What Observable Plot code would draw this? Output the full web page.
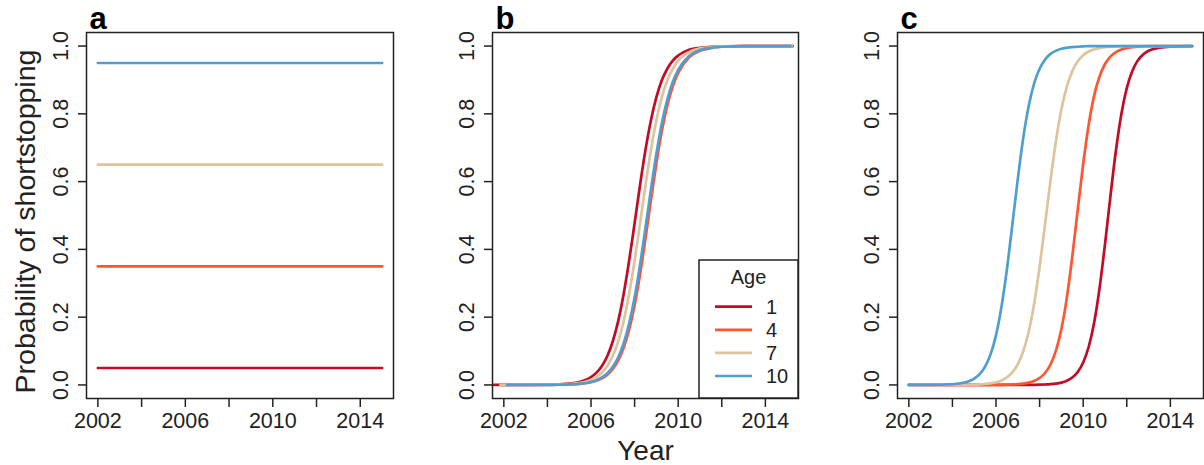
<!DOCTYPE html>
<html><head><meta charset="utf-8">
<script src="https://cdn.jsdelivr.net/npm/d3@7"></script>
<script src="https://cdn.jsdelivr.net/npm/@observablehq/plot@0.6"></script>
<style>
body{margin:0;background:#fff;}
#wrap{position:relative;width:1204px;height:465px;overflow:hidden;font-family:"Liberation Sans",Arial,sans-serif;}
.panel{position:absolute;top:0;}
.overlay{position:absolute;left:0;top:0;pointer-events:none;}
</style></head><body><div id="wrap"></div>
<script>
// ---- categories, colours, labels ----
const ages = ["1", "4", "7", "10"];
const ageColors = ["#C40A24", "#FF5533", "#DDC49E", "#4E9FCF"];
const xTicks = [2002, 2004, 2006, 2008, 2010, 2012, 2014];
const xTickLabels = [2002, 2006, 2010, 2014];
const yTicks = [0, 0.2, 0.4, 0.6, 0.8, 1.0];
const yTitle = "Probability of shortstopping";
const xTitle = "Year";
const panelLetters = ["a", "b", "c"];
const legendTitle = "Age";

// ---- panel a ----
const aYears = [2002, 2015];
const aAge1 = [0.05, 0.05];
const aAge4 = [0.35, 0.35];
const aAge7 = [0.65, 0.65];
const aAge10 = [0.95, 0.95];

// ---- panel b ----
const bYears = [2001.55, 2001.85, 2002.15, 2003, 2004, 2004.5, 2005, 2005.5,
  2005.75, 2006, 2006.25, 2006.5, 2006.75, 2007, 2007.25, 2007.5, 2007.75, 2008,
  2008.25, 2008.5, 2008.75, 2009, 2009.25, 2009.5, 2009.75, 2010,
  2010.5, 2011, 2011.5, 2012, 2013, 2014, 2015.15, 2015.2, 2015.25];
const bAge1 = [0, 0, 0, 0.0001, 0.0006, 0.0016, 0.0039, 0.0096,
  0.0149, 0.0234, 0.0363, 0.0562, 0.0856, 0.129, 0.189, 0.269, 0.367, 0.477,
  0.59, 0.694, 0.781, 0.849, 0.899, 0.933, 0.957, 0.972,
  0.989, 0.995, 0.998, 0.999, 1, 1, 1, 1, 1];
const bAge4 = [null, 0, 0, 0, 0.0002, 0.0005, 0.0013, 0.0032,
  0.0051, 0.008, 0.0125, 0.0196, 0.0305, 0.0474, 0.0725, 0.11, 0.163, 0.235,
  0.326, 0.432, 0.545, 0.654, 0.749, 0.824, 0.881, 0.921,
  0.967, 0.986, 0.994, 0.998, 1, 1, 1, 1, 1];
const bAge7 = [null, 0, 0, 0.0001, 0.0004, 0.001, 0.0025, 0.0061,
  0.0096, 0.0149, 0.0234, 0.0363, 0.0562, 0.0856, 0.129, 0.189, 0.269, 0.367,
  0.477, 0.59, 0.694, 0.781, 0.849, 0.899, 0.933, 0.957,
  0.982, 0.993, 0.997, 0.999, 1, 1, 1, 1, null];
const bAge10 = [null, null, 0, 0, 0.0002, 0.0006, 0.0015, 0.0037,
  0.0058, 0.009, 0.0142, 0.0221, 0.0346, 0.0534, 0.0816, 0.123, 0.181, 0.258,
  0.354, 0.464, 0.577, 0.682, 0.772, 0.842, 0.894, 0.93,
  0.971, 0.988, 0.995, 0.998, 1, 1, 1, null, null];

// ---- panel c ----
const cYears = [2002, 2003, 2004, 2004.5, 2004.75, 2005, 2005.25, 2005.5, 2005.75,
  2006, 2006.25, 2006.5, 2006.75, 2007, 2007.25, 2007.5, 2007.75, 2008, 2008.25,
  2008.5, 2008.75, 2009, 2009.25, 2009.5, 2009.75, 2010, 2010.25, 2010.5, 2010.75,
  2011, 2011.25, 2011.5, 2011.75, 2012, 2012.25, 2012.5, 2012.75, 2013, 2013.5, 2014, 2015];
const cAge1 = [0, 0, 0, 0, 0, 0, 0, 0, 0,
  0, 0, 0, 0.0001, 0.0001, 0.0001, 0.0002, 0.0004, 0.0007, 0.0013,
  0.0022, 0.004, 0.007, 0.0125, 0.022, 0.0384, 0.0663, 0.112, 0.183, 0.285,
  0.415, 0.557, 0.691, 0.799, 0.876, 0.926, 0.957, 0.975, 0.986, 0.9955, 0.9986, 1];
const cAge4 = [0, 0, 0, 0, 0, 0, 0, 0.0001, 0.0001,
  0.0002, 0.0004, 0.0007, 0.0013, 0.0022, 0.0038, 0.0067, 0.0118, 0.0204, 0.0352,
  0.0603, 0.1015, 0.165, 0.257, 0.379, 0.517, 0.652, 0.767, 0.853, 0.91,
  0.947, 0.969, 0.982, 0.99, 0.994, 0.997, 0.998, 0.999, 1, 1, 1, 1];
const cAge7 = [0, 0, 0.0001, 0.0003, 0.0006, 0.001, 0.0016, 0.0028, 0.0047,
  0.0079, 0.0133, 0.0223, 0.037, 0.0612, 0.0993, 0.157, 0.24, 0.348, 0.474,
  0.603, 0.72, 0.813, 0.88, 0.926, 0.955, 0.973, 0.984, 0.99, 0.994,
  0.997, 0.998, 0.999, 1, 1, 1, 1, 1, 1, 1, 1, 1];
const cAge10 = [0, 0.0002, 0.0021, 0.0063, 0.0109, 0.0187, 0.032, 0.0542, 0.0903,
  0.147, 0.23, 0.341, 0.473, 0.608, 0.729, 0.823, 0.89, 0.933, 0.96,
  0.977, 0.986, 0.992, 0.995, 0.997, 0.998, 0.999, 1, 1, 1,
  1, 1, 1, 1, 1, 1, 1, 1, 1, 1, 1, 1];

function toRows(years, series) {
  const rows = [];
  series.forEach((vals, k) => {
    years.forEach((yr, i) => rows.push({age: ages[k], year: yr, p: vals[i]}));
  });
  return rows;
}
const panels = [
  {rows: toRows(aYears, [aAge1, aAge4, aAge7, aAge10]), left: 0, width: 401, mL: 86, mR: 8, curve: "linear"},
  {rows: toRows(bYears, [bAge1, bAge4, bAge7, bAge10]), left: 401, width: 401, mL: 91, mR: 4, curve: "monotone-x"},
  {rows: toRows(cYears, [cAge1, cAge4, cAge7, cAge10]), left: 802, width: 402, mL: 95, mR: 1, curve: "monotone-x"}
];

const wrap = document.getElementById("wrap");
const ink = "#222";
panels.forEach((pn, idx) => {
  const marks = [
    Plot.line(pn.rows, {x: "year", y: "p", z: "age", stroke: "age", strokeWidth: 2.7, curve: pn.curve}),
    Plot.frame({stroke: ink, strokeWidth: 1.5}),
    Plot.axisX({ticks: xTicks, tickFormat: d => xTickLabels.includes(d) ? String(d) : "",
      tickSize: 9, tickPadding: 5, label: null, fontSize: 21.5, stroke: ink, strokeWidth: 1.5, fill: ink}),
    Plot.axisY({ticks: yTicks, tickFormat: d3.format(".1f"), tickRotate: -90,
      tickSize: 8, tickPadding: 11, label: null, fontSize: 21.5, stroke: ink, strokeWidth: 1.5, fill: ink}),
    Plot.text([panelLetters[idx]], {frameAnchor: "top-left", text: d => d, dx: 3, dy: -4,
      lineAnchor: "bottom", textAnchor: "start", fontWeight: "bold", fontSize: 31, fill: "#000"})
  ];
  if (idx === 0) {
    marks.push(Plot.text([yTitle], {frameAnchor: "left", text: d => d, rotate: -90, dx: -52, dy: 6,
      lineAnchor: "bottom", textAnchor: "middle", fontSize: 28.5, fill: ink}));
  }
  if (idx === 1) {
    marks.push(Plot.text([xTitle], {frameAnchor: "bottom", text: d => d, dy: 61,
      lineAnchor: "bottom", textAnchor: "middle", fontSize: 28, fill: ink}));
  }
  const chart = Plot.plot({
    width: pn.width, height: 465,
    marginTop: 32, marginBottom: 67, marginLeft: pn.mL, marginRight: pn.mR,
    x: {domain: [2001.48, 2015.52]},
    y: {domain: [-0.04, 1.04]},
    color: {domain: ages, range: ageColors},
    style: {fontFamily: "'Liberation Sans', Arial, sans-serif", fontSize: "21px", color: ink, background: "transparent", overflow: "visible"},
    marks
  });
  const div = document.createElement("div");
  div.className = "panel";
  div.style.left = pn.left + "px";
  div.appendChild(chart);
  wrap.appendChild(div);
});

// ---- legend (panel b) ----
const svg = d3.select(wrap).append("svg").attr("class", "overlay")
  .attr("width", 1204).attr("height", 465)
  .style("font-family", "'Liberation Sans', Arial, sans-serif");
const lg = svg.append("g");
lg.append("rect").attr("x", 699).attr("y", 260).attr("width", 99).attr("height", 138)
  .attr("fill", "#fff").attr("stroke", ink).attr("stroke-width", 1.5);
lg.append("text").attr("x", 748.5).attr("y", 284).attr("text-anchor", "middle")
  .attr("font-size", 20).attr("fill", ink).text(legendTitle);
ages.forEach((a, i) => {
  const yy = 306.7 + i * 23.1;
  lg.append("line").attr("x1", 715).attr("x2", 752).attr("y1", yy).attr("y2", yy)
    .attr("stroke", ageColors[i]).attr("stroke-width", 2.7);
  lg.append("text").attr("x", 766).attr("y", yy + 7).attr("font-size", 20)
    .attr("fill", ink).text(a);
});
</script></body></html>
